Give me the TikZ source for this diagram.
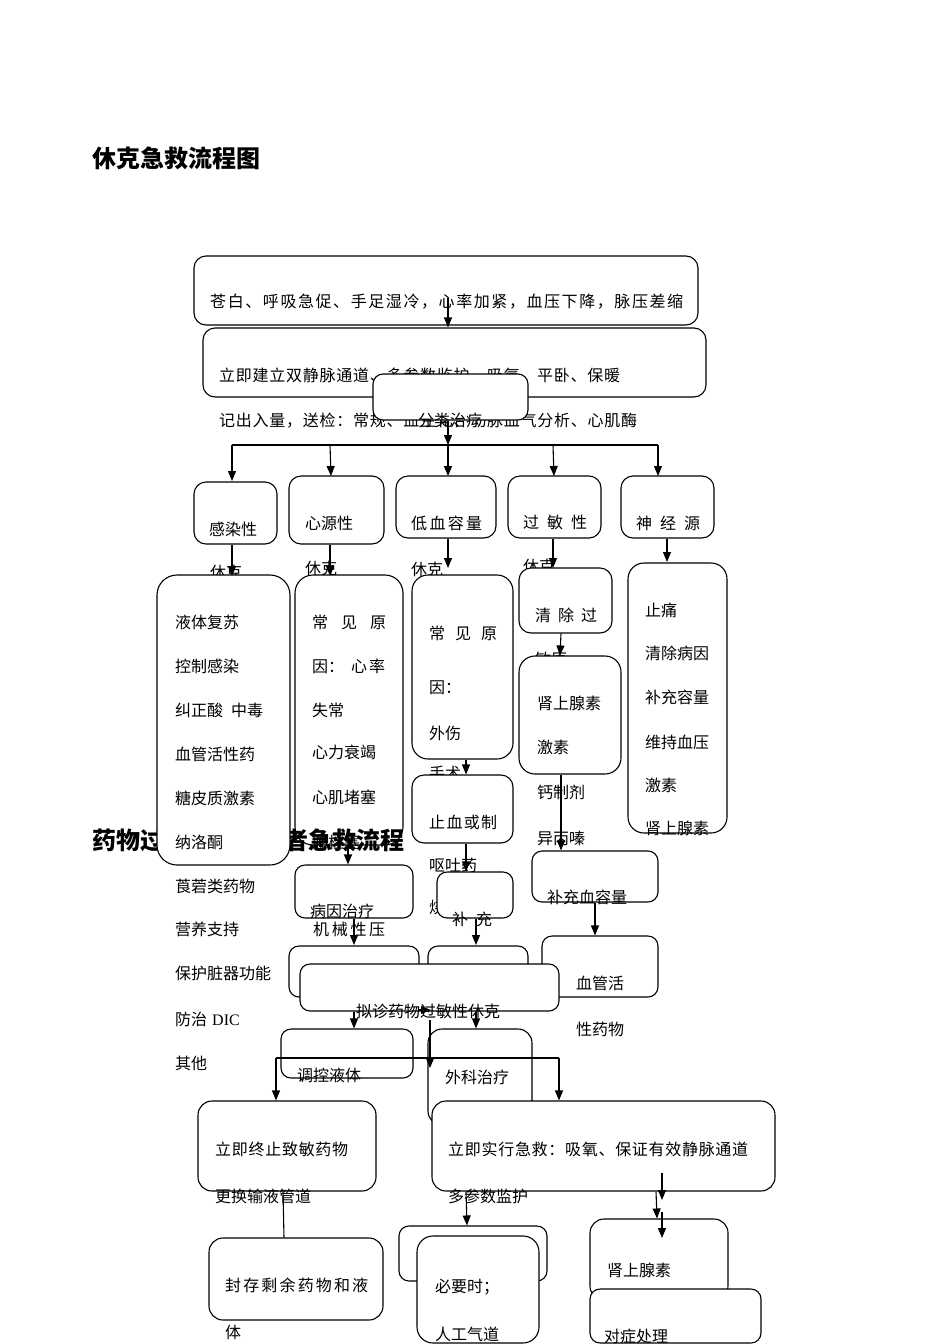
\documentclass[tikz,border=0pt]{standalone}
\usepackage{fontspec}
\setmainfont{Noto Sans CJK SC}
\newfontfamily\lserif{Liberation Serif}
\usetikzlibrary{arrows.meta,fit}
\newcommand\sprd[2]{\hbox to #1pt{\sprdfirst#2\relax}}
\def\sprdfirst#1{#1\sprdrest}
\def\sprdrest#1{\ifx#1\relax\else\hfil#1\expandafter\sprdrest\fi}
\newcommand\bx[6][12pt]{\node[box=#1, fit={(#3,#4) (#5,#6)}] (#2) {};}
\newcommand\tx[4]{\node[txt] (#1) at (#2,#3) {#4};}
\tikzset{
  box/.style={draw, fill=white, line width=1.1pt, rounded corners=#1, inner sep=0pt},
  box/.default=12pt,
  txt/.style={anchor=west, inner sep=0pt, font=\fontsize{16}{16}\selectfont},
  ttl/.style={anchor=west, inner sep=0pt, font=\fontsize{24}{24}\selectfont\bfseries},
  arr/.style={line width=1.1pt, -{Triangle[length=10pt,width=8pt]}},
  ln/.style={line width=1.1pt},
}
\begin{document}
\begin{tikzpicture}[x=1pt,y=-1pt]
\fill[white] (0,0) rectangle (950,1344);
\useasboundingbox (0,0) rectangle (950,1344);

\node[ttl] (title1) at (92,158) {休克急救流程图};

% top boxes
\bx{A}{194}{256}{698}{325}
\tx{tA}{210}{302}{\sprd{473}{苍白、呼吸急促、手足湿冷，心率加紧，血压下降，脉压差缩}}
\bx{B}{203}{328}{706}{397}
\tx{tB1}{219}{375}{\sprd{401}{立即建立双静脉通道、多参数监护、吸氧、平卧、保暖}}
\tx{tB2}{219}{421}{\sprd{418}{记出入量，送检：常规、血生化、动脉血气分析、心肌酶}}
\bx[10pt]{C}{373}{374}{528}{420}
\tx{tC}{418}{420}{分类治疗}
\draw[arr] (448,298) -- (B.north -| 448,0);
\coordinate (h1) at (232,445);
\coordinate (h2) at (658,445);
\draw[arr] (C.south -| 448,0) -- (h1 -| 448,0);
\draw[ln] (h1) -- (h2);
\draw[arr] (h1) -- (232,481);
\draw[arr] (h1 -| 330,0) -- (331,476);
\draw[arr] (h1 -| 448,0) -- (448,476);
\draw[arr] (h1 -| 553,0) -- (554,476);
\draw[arr] (h2) -- (658,476);

% row 2
\bx{R1}{194}{482}{277}{544}
\tx{tR1}{209}{529}{感染性}
\tx{tR1b}{210}{572}{休克}
\bx{R2}{289}{476}{384}{544}
\tx{tR2}{305}{523}{心源性}
\tx{tR2b}{305}{568}{休克}
\bx{R3}{396}{476}{496}{538}
\tx{tR3}{411}{523}{\sprd{71}{低血容量}}
\tx{tR3b}{411}{569}{休克}
\bx{R4}{508}{476}{601}{538}
\tx{tR4}{523}{522}{\sprd{64}{过敏性}}
\tx{tR4b}{523}{566}{休克}
\bx{R5}{621}{476}{714}{538}
\tx{tR5}{636}{523}{\sprd{64}{神经源}}

\draw[arr] (R1.south -| 232,0) -- (232,576);
\draw[arr] (R2.south -| 330,0) -- (330,576);
\draw[arr] (R3.south -| 448,0) -- (448,568);
\draw[arr] (R4.south -| 553,0) -- (553,568);
\draw[arr] (R5.south -| 667,0) -- (667,562);

% cardiogenic column
\bx[18pt]{D2}{295}{575}{403}{845}
\tx{tD2a}{312}{622}{\sprd{74}{常见原}}
\tx{tD2b}{312}{666}{因：\hspace{7pt}心\hspace{2pt}率}
\tx{tD2c}{312}{710}{失常}
\tx{tD2d}{312}{752}{心力衰竭}
\tx{tD2e}{312}{797}{心肌堵塞}

\node[ttl] (title2) at (92,840) {药物过敏性休克患者急救流程};

% septic column
\bx[20pt]{D1}{157}{575}{290}{865}
\tx{tD1a}{175}{622}{液体复苏}
\tx{tD1b}{175}{666}{控制感染}
\tx{tD1c}{175}{710}{纠正酸\hspace{8pt}中毒}
\tx{tD1d}{175}{754}{血管活性药}
\tx{tD1e}{175}{798}{糖皮质激素}
\tx{tD1f}{175}{842}{纳洛酮}
\tx{tD1g}{175}{886}{莨菪类药物}
\tx{tD1h}{175}{929}{营养支持}
\tx{tD1i}{175}{973}{保护脏器功能}
\tx{tD1j}{175}{1019}{防治\hspace{5pt}{\lserif DIC}}
\tx{tD1k}{175}{1063}{其他}
\tx{tD2f}{312}{842}{肺栓塞}

% hypovolemic column
\bx[16pt]{D3}{412}{575}{513}{759}
\tx{tD3a}{429}{633}{\sprd{68}{常见原}}
\tx{tD3b}{429}{688}{因：}
\tx{tD3c}{429}{733}{外伤}
\tx{tD3d}{429}{773}{手术}
\bx{D9}{412}{775}{513}{843}
\tx{tD9a}{429}{822}{\sprd{68}{止血或制}}
\tx{tD9b}{429}{865}{呕吐药}
\tx{tD9c}{429}{907}{烧伤}
\bx[10pt]{D10}{437}{872}{513}{918}
\tx{tD10}{452}{919}{\sprd{40}{补充}}

% anaphylactic column
\bx{D4}{519}{568}{612}{633}
\tx{tD4a}{535}{615}{\sprd{62}{清除过}}
\tx{tD4b}{535}{659}{敏原}
\bx[16pt]{D6}{519}{656}{621}{774}
\tx{tD6a}{537}{703}{肾上腺素}
\tx{tD6b}{537}{747}{激素}
\tx{tD6c}{537}{792}{钙制剂}
\tx{tD6d}{537}{838}{异丙嗪}

% neurogenic column
\bx[16pt]{D5}{628}{563}{727}{833}
\tx{tD5a}{645}{610}{止痛}
\tx{tD5b}{645}{653}{清除病因}
\tx{tD5c}{645}{697}{补充容量}
\tx{tD5d}{645}{742}{维持血压}
\tx{tD5e}{645}{785}{激素}
\tx{tD5f}{645}{828}{肾上腺素}

\bx[10pt]{D7}{532}{851}{658}{902}
\tx{tD7}{547}{897}{补充血容量}
\bx[10pt]{D12}{295}{865}{413}{918}
\tx{tD12a}{310}{911}{病因治疗}
\tx{tD12b}{313}{929}{\sprd{72}{机械性压}}

\bx[10pt]{D13}{289}{946}{419}{997}
\bx[10pt]{D11}{428}{946}{528}{997}
\bx[10pt]{D8}{542}{936}{658}{997}
\tx{tD8a}{576}{983}{血管活}
\tx{tD8b}{576}{1029}{性药物}
\bx[10pt]{E}{300}{964}{559}{1011}
\tx{tE}{356}{1011}{拟诊药物过敏性休克}

\draw[arr] (D3.south -| 466,0) -- (D9.north -| 466,0);
\draw[arr] (D2.south -| 348,0) -- (D12.north -| 348,0);
\draw[arr] (D4.south -| 561,0) -- (D6.north -| 560,0);
\draw[arr] (D6.south -| 561,0) -- (D7.north -| 561,0);
\draw[arr] (D9.south -| 466,0) -- (D10.north -| 466,0);
\draw[arr] (D7.south -| 595,0) -- (D8.north -| 595,0);
\draw[arr] (D10.south -| 476,0) -- (476,945);
\draw[arr] (D12.south -| 354,0) -- (354,945);

% drug allergy lower part
\bx[10pt]{F1}{281}{1029}{413}{1078}
\tx{tF1}{297}{1075}{调控液体}
\bx[14pt]{F2}{428}{1029}{532}{1125}
\tx{tF2}{445}{1077}{外科治疗}
\draw[arr] (E.south -| 354,0) -- (F1.north -| 354,0);
\draw[arr] (E.south -| 476,0) -- (F2.north -| 476,0);
\draw[arr] (418,1010) -- (431,1010);
\draw[arr] (430,1020) -- (430,1068);
\coordinate (j1) at (276,1058);
\coordinate (j2) at (559,1058);
\draw[ln] (j1) -- (j2);

\bx[14pt]{G1}{198}{1101}{376}{1191}
\tx{tG1a}{215}{1149}{\sprd{133}{立即终止致敏药物}}
\tx{tG1b}{215}{1196}{更换输液管道}
\bx[14pt]{G2}{432}{1101}{775}{1191}
\tx{tG2a}{448}{1149}{\sprd{300}{立即实行急救：吸氧、保证有效静脉通道}}
\tx{tG2b}{448}{1196}{多参数监护}
\draw[arr] (j1) -- (G1.north -| j1);
\draw[arr] (j2) -- (G2.north -| j2);

\bx[14pt]{H1}{209}{1238}{383}{1320}
\tx{tH1a}{225}{1285}{\sprd{143}{封存剩余药物和液}}
\tx{tH1b}{225}{1332}{体}
\draw[ln] (G1.south -| 283,0) -- (H1.north -| 284,0);

\bx[10pt]{H2}{399}{1226}{547}{1281}
\bx[16pt]{H3}{417}{1236}{539}{1343}
\tx{tH3a}{435}{1287}{必要时；}
\tx{tH3b}{435}{1334}{人工气道}
\draw[arr] (G2.south -| 466,0) -- (H2.north -| 467,0);

\bx[14pt]{H4}{590}{1219}{728}{1300}
\tx{tH4}{607}{1270}{肾上腺素}
\bx[10pt]{H5}{590}{1289}{761}{1343}
\tx{tH5}{604}{1336}{对症处理}
\draw[arr] (662,1173) -- (662,1200);
\draw[arr] (G2.south -| 656,0) -- (H4.north -| 657,0);
\draw[arr] (662,1212) -- (662,1238);
\end{tikzpicture}
\end{document}
